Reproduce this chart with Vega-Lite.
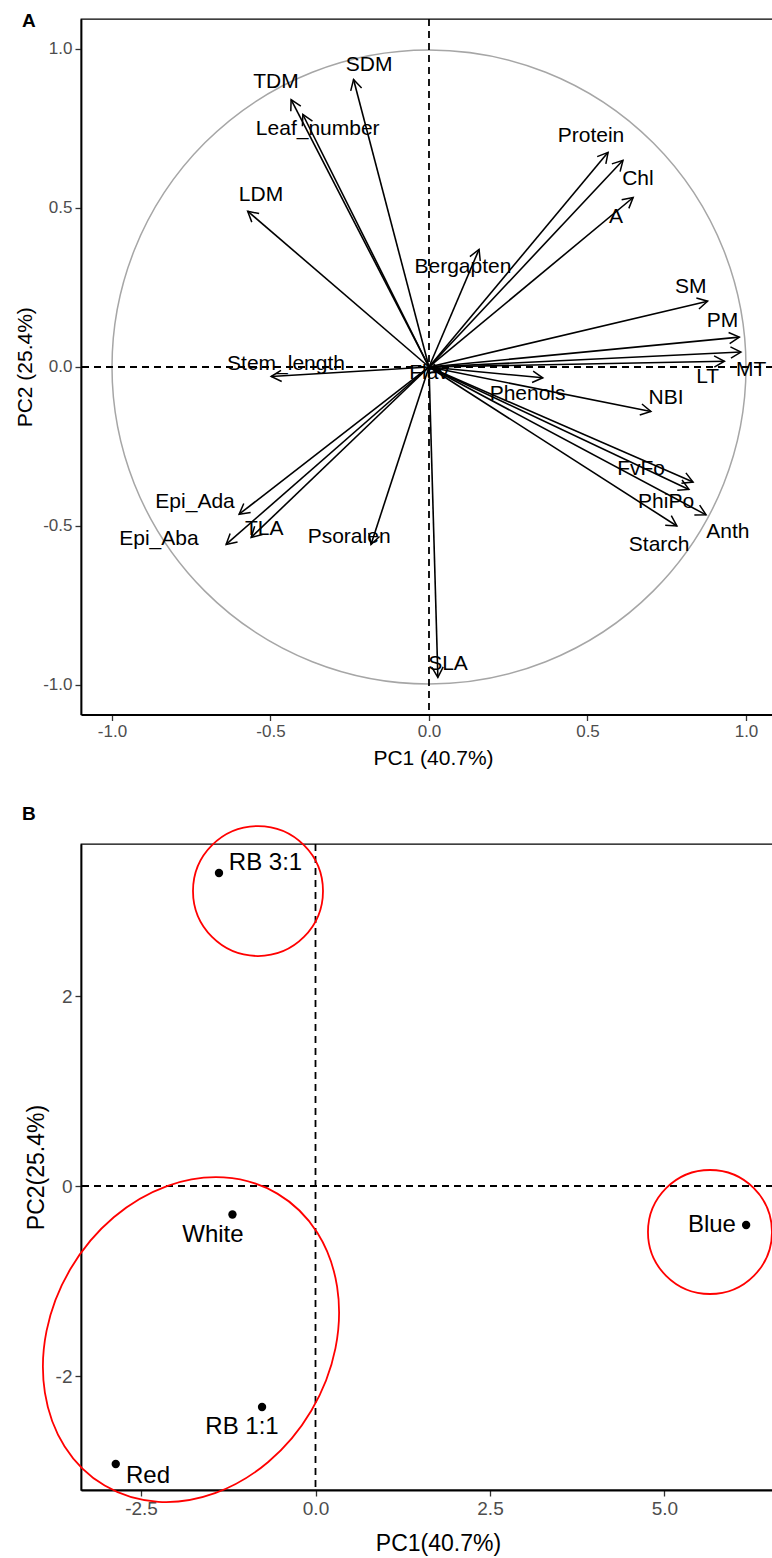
{
  "$schema": "https://vega.github.io/schema/vega-lite/v6.json",
  "padding": {"left": 13, "top": 11, "right": 0, "bottom": 0},
  "background": "white",
  "bounds": "flush",
  "spacing": 129,
  "config": {
    "font": "Liberation Sans",
    "view": {"stroke": "black", "strokeWidth": 1.3},
    "axis": {"grid": false, "domainColor": "black", "domainWidth": 1.8, "tickColor": "#333333", "tickSize": 6, "tickWidth": 1.3, "labelColor": "#4D4D4D", "labelFont": "Liberation Sans", "titleFont": "Liberation Sans", "titleColor": "black", "titleFontWeight": "normal", "labelFlush": false, "labelOverlap": false}
  },
  "datasets": {
    "varsA": [
      {"name": "SDM", "x": -0.238, "y": 0.904, "lx": -0.189, "ly": 0.951},
      {"name": "TDM", "x": -0.435, "y": 0.841, "lx": -0.483, "ly": 0.895},
      {"name": "Leaf_number", "x": -0.398, "y": 0.794, "lx": -0.351, "ly": 0.747},
      {"name": "LDM", "x": -0.572, "y": 0.49, "lx": -0.53, "ly": 0.542},
      {"name": "Protein", "x": 0.565, "y": 0.675, "lx": 0.511, "ly": 0.727},
      {"name": "Chl", "x": 0.612, "y": 0.65, "lx": 0.659, "ly": 0.59},
      {"name": "A", "x": 0.644, "y": 0.533, "lx": 0.59, "ly": 0.473},
      {"name": "Bergapten", "x": 0.158, "y": 0.37, "lx": 0.107, "ly": 0.316},
      {"name": "SM", "x": 0.879, "y": 0.207, "lx": 0.826, "ly": 0.253},
      {"name": "PM", "x": 0.979, "y": 0.094, "lx": 0.926, "ly": 0.144},
      {"name": "MT", "x": 0.984, "y": 0.047, "lx": 1.016, "ly": -0.008},
      {"name": "LT", "x": 0.932, "y": 0.018, "lx": 0.879, "ly": -0.03},
      {"name": "NBI", "x": 0.7, "y": -0.14, "lx": 0.748, "ly": -0.096},
      {"name": "Phenols", "x": 0.359, "y": -0.034, "lx": 0.311, "ly": -0.086},
      {"name": "Stem_length", "x": -0.498, "y": -0.03, "lx": -0.451, "ly": 0.008},
      {"name": "Flav", "x": 0.035, "y": -0.012, "lx": 0.0, "ly": -0.02},
      {"name": "FvFo", "x": 0.833, "y": -0.362, "lx": 0.669, "ly": -0.32},
      {"name": "PhiPo", "x": 0.82, "y": -0.385, "lx": 0.748, "ly": -0.424},
      {"name": "Anth", "x": 0.874, "y": -0.465, "lx": 0.943, "ly": -0.52},
      {"name": "Starch", "x": 0.782, "y": -0.5, "lx": 0.726, "ly": -0.56},
      {"name": "Epi_Ada", "x": -0.599, "y": -0.463, "lx": -0.738, "ly": -0.423},
      {"name": "Epi_Aba", "x": -0.64, "y": -0.558, "lx": -0.852, "ly": -0.541},
      {"name": "TLA", "x": -0.561, "y": -0.536, "lx": -0.52, "ly": -0.509},
      {"name": "Psoralen", "x": -0.183, "y": -0.558, "lx": -0.252, "ly": -0.536},
      {"name": "SLA", "x": 0.028, "y": -0.976, "lx": 0.06, "ly": -0.935}
    ],
    "circleA": [{"x": 0, "y": 0}],
    "ptsB": [
      {"name": "RB 3:1", "x": -1.383, "y": 3.295, "lx": -0.716, "ly": 3.4},
      {"name": "White", "x": -1.19, "y": -0.3, "lx": -1.47, "ly": -0.52},
      {"name": "RB 1:1", "x": -0.766, "y": -2.326, "lx": -1.053, "ly": -2.537},
      {"name": "Red", "x": -2.862, "y": -2.926, "lx": -2.4, "ly": -3.053},
      {"name": "Blue", "x": 6.17, "y": -0.41, "lx": 5.68, "ly": -0.41}
    ],
    "ellRB31": [{"x": -0.824, "y": 3.105}],
    "ellBlue": [{"x": 5.652, "y": -0.484}],
    "ellBig": [{"x": -1.784, "y": -1.617}]
  },
  "vconcat": [
    {
      "width": 692,
      "height": 695.5,
      "title": {"text": "A", "anchor": "start", "frame": "group", "fontSize": 19, "fontWeight": "bold", "baseline": "alphabetic", "offset": -28, "dx": -59, "color": "black", "font": "Liberation Sans"},
      "layer": [
        {
          "data": {"name": "circleA"},
          "mark": {"type": "point", "shape": "circle", "size": 401956, "filled": false, "stroke": "#A6A6A6", "strokeWidth": 1.5, "opacity": 1},
          "encoding": {
            "x": {"field": "x", "type": "quantitative", "title": "PC1 (40.7%)", "scale": {"domain": [-1.0978, 1.0852], "nice": false, "zero": false},
              "axis": {"values": [-1, -0.5, 0, 0.5, 1], "labelExpr": "datum.value < 0 ? '-' + format(-datum.value, '.1f') : format(datum.value, '.1f')", "labelFontSize": 17, "labelPadding": 3, "titleFontSize": 21, "titleX": 352, "titleY": 50, "titleBaseline": "alphabetic", "titleAlign": "center"}},
            "y": {"field": "y", "type": "quantitative", "title": "PC2 (25.4%)", "scale": {"domain": [-1.0928, 1.0943], "nice": false, "zero": false},
              "axis": {"values": [-1, -0.5, 0, 0.5, 1], "labelExpr": "datum.value < 0 ? '-' + format(-datum.value, '.1f') : format(datum.value, '.1f')", "labelFontSize": 17, "labelPadding": 3, "titleFontSize": 21, "titleX": -46, "titleY": 347.75, "titleAngle": -90, "titleBaseline": "bottom", "titleAlign": "center"}}
          }
        },
        {
          "data": {"name": "circleA"},
          "mark": {"type": "rule", "strokeDash": [7, 5], "strokeWidth": 1.8, "color": "black"},
          "encoding": {"y": {"datum": 0, "type": "quantitative", "title": "PC2 (25.4%)"}}
        },
        {
          "data": {"name": "circleA"},
          "mark": {"type": "rule", "strokeDash": [7, 5], "strokeWidth": 1.8, "color": "black"},
          "encoding": {"x": {"datum": 0, "type": "quantitative", "title": "PC1 (40.7%)"}}
        },
        {
          "data": {"name": "varsA"},
          "mark": {"type": "rule", "color": "black", "strokeWidth": 1.6},
          "encoding": {
            "x": {"field": "x", "type": "quantitative", "title": "PC1 (40.7%)"},
            "y": {"field": "y", "type": "quantitative", "title": "PC2 (25.4%)"},
            "x2": {"datum": 0},
            "y2": {"datum": 0}
          }
        },
        {
          "data": {"name": "varsA"},
          "mark": {"type": "point", "shape": "M -1 -0.55 L 0 0 L -1 0.55", "filled": false, "stroke": "black", "strokeWidth": 1.5, "size": 420, "opacity": 1, "angle": {"expr": "atan2(-datum.y, datum.x) * 180 / PI"}},
          "encoding": {
            "x": {"field": "x", "type": "quantitative", "title": "PC1 (40.7%)"},
            "y": {"field": "y", "type": "quantitative", "title": "PC2 (25.4%)"}
          }
        },
        {
          "data": {"name": "varsA"},
          "mark": {"type": "text", "fontSize": 21, "font": "Liberation Sans", "color": "black", "align": "center", "baseline": "middle"},
          "encoding": {
            "x": {"field": "lx", "type": "quantitative", "title": "PC1 (40.7%)"},
            "y": {"field": "ly", "type": "quantitative", "title": "PC2 (25.4%)"},
            "text": {"field": "name"}
          }
        }
      ]
    },
    {
      "width": 692,
      "height": 646,
      "title": {"text": "B", "anchor": "start", "frame": "group", "fontSize": 19, "fontWeight": "bold", "baseline": "alphabetic", "offset": -17, "dx": -59, "color": "black", "font": "Liberation Sans"},
      "layer": [
        {
          "data": {"name": "ptsB"},
          "mark": {"type": "point", "filled": true, "color": "black", "size": 70, "opacity": 1},
          "encoding": {
            "x": {"field": "x", "type": "quantitative", "title": "PC1(40.7%)", "scale": {"domain": [-3.36, 6.555], "nice": false, "zero": false},
              "axis": {"values": [-2.5, 0, 2.5, 5], "labelExpr": "datum.value < 0 ? '-' + format(-datum.value, '.1f') : format(datum.value, '.1f')", "labelFontSize": 19, "labelPadding": 3, "titleFontSize": 23, "titleX": 357, "titleY": 60, "titleBaseline": "alphabetic", "titleAlign": "center"}},
            "y": {"field": "y", "type": "quantitative", "title": "PC2(25.4%)", "scale": {"domain": [-3.2, 3.6], "nice": false, "zero": false},
              "axis": {"values": [-2, 0, 2], "labelExpr": "datum.value < 0 ? '-' + format(-datum.value, 'd') : format(datum.value, 'd')", "labelFontSize": 19, "labelPadding": 3, "titleFontSize": 23, "titleX": -33, "titleY": 323, "titleAngle": -90, "titleBaseline": "bottom", "titleAlign": "center"}}
          }
        },
        {
          "data": {"name": "ellRB31"},
          "mark": {"type": "rule", "strokeDash": [7, 5], "strokeWidth": 1.8, "color": "black"},
          "encoding": {"y": {"datum": 0, "type": "quantitative", "title": "PC2(25.4%)"}}
        },
        {
          "data": {"name": "ellRB31"},
          "mark": {"type": "rule", "strokeDash": [7, 5], "strokeWidth": 1.8, "color": "black"},
          "encoding": {"x": {"datum": 0, "type": "quantitative", "title": "PC1(40.7%)"}}
        },
        {
          "data": {"name": "ellRB31"},
          "mark": {"type": "point", "shape": "circle", "size": 16900, "filled": false, "stroke": "#FF0000", "strokeWidth": 1.8, "opacity": 1},
          "encoding": {
            "x": {"field": "x", "type": "quantitative", "title": "PC1(40.7%)"},
            "y": {"field": "y", "type": "quantitative", "title": "PC2(25.4%)"}
          }
        },
        {
          "data": {"name": "ellBlue"},
          "mark": {"type": "point", "shape": "circle", "size": 15376, "filled": false, "stroke": "#FF0000", "strokeWidth": 1.8, "opacity": 1},
          "encoding": {
            "x": {"field": "x", "type": "quantitative", "title": "PC1(40.7%)"},
            "y": {"field": "y", "type": "quantitative", "title": "PC2(25.4%)"}
          }
        },
        {
          "data": {"name": "ellBig"},
          "mark": {"type": "point", "shape": "M 0.824 0 C 0.824 0.5523 0.4551 1 0 1 C -0.4551 1 -0.824 0.5523 -0.824 0 C -0.824 -0.5523 -0.4551 -1 0 -1 C 0.4551 -1 0.824 -0.5523 0.824 0 Z", "size": 115057, "angle": 30.6, "filled": false, "stroke": "#FF0000", "strokeWidth": 1.8, "opacity": 1},
          "encoding": {
            "x": {"field": "x", "type": "quantitative", "title": "PC1(40.7%)"},
            "y": {"field": "y", "type": "quantitative", "title": "PC2(25.4%)"}
          }
        },
        {
          "data": {"name": "ptsB"},
          "mark": {"type": "text", "fontSize": 24, "font": "Liberation Sans", "color": "black", "align": "center", "baseline": "middle"},
          "encoding": {
            "x": {"field": "lx", "type": "quantitative", "title": "PC1(40.7%)"},
            "y": {"field": "ly", "type": "quantitative", "title": "PC2(25.4%)"},
            "text": {"field": "name"}
          }
        }
      ]
    }
  ]
}
